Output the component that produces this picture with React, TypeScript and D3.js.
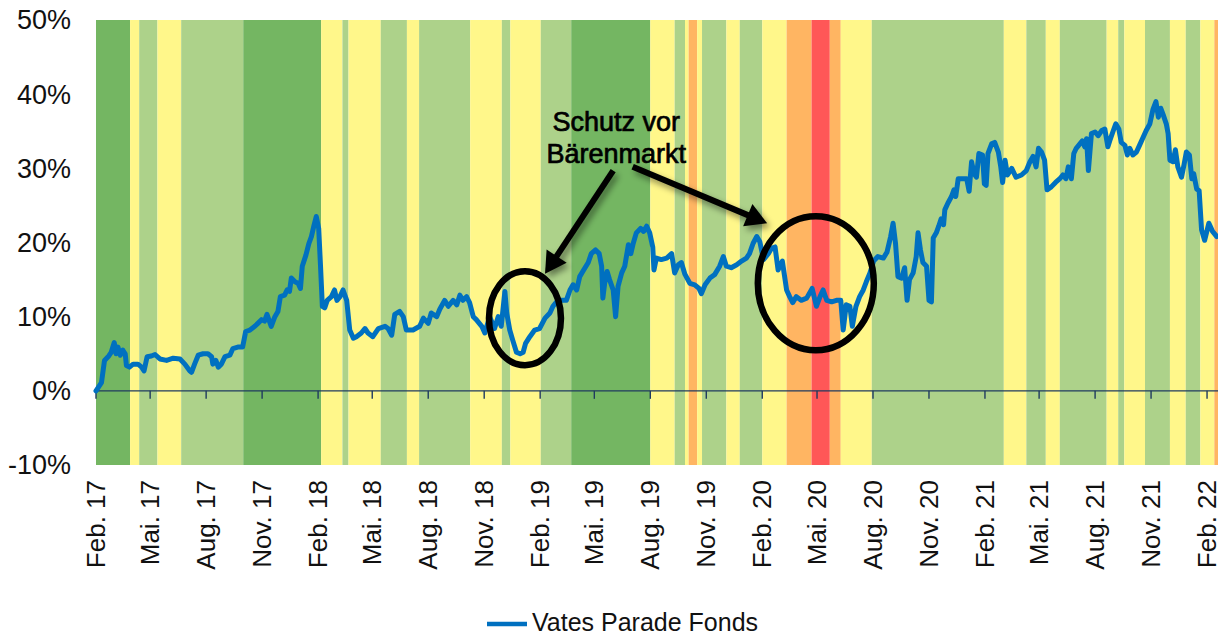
import React, { useEffect } from 'react';
import * as d3 from 'd3';

const W = 1218, H = 637;
const parse = d3.timeParse('%Y-%m-%d');

const yTicks = [-10, 0, 10, 20, 30, 40, 50];
const monthAbbr = ['Jan.', 'Feb.', 'Mär.', 'Apr.', 'Mai.', 'Jun.', 'Jul.', 'Aug.', 'Sep.', 'Okt.', 'Nov.', 'Dez.'];

// market regime backdrop
const regimeColors: Record<string, string> = {
  strong: '#74B662',
  positive: '#ADD28A',
  neutral: '#FFF78A',
  caution: '#FFB562',
  bear: '#FF5757',
};

const bandStarts = [
  '2017-02-01', '2017-03-29', '2017-04-13', '2017-05-13', '2017-06-21', '2017-10-01',
  '2018-02-06', '2018-03-13', '2018-03-23', '2018-05-15', '2018-06-27', '2018-07-17',
  '2018-10-09', '2018-11-30', '2018-12-14', '2019-02-02', '2019-03-24', '2019-08-01',
  '2019-09-10', '2019-09-27', '2019-10-03', '2019-10-17', '2019-10-25', '2019-12-04',
  '2019-12-26', '2020-02-01', '2020-03-12', '2020-04-22', '2020-05-22', '2020-06-09',
  '2020-07-30', '2021-03-04', '2021-04-10', '2021-05-12', '2021-06-04', '2021-08-20',
  '2021-09-08', '2021-09-18', '2021-10-22', '2021-12-02', '2021-12-28', '2022-01-21',
  '2022-02-13',
];
const bandRegimes = [
  'strong', 'neutral', 'positive', 'neutral', 'positive', 'strong',
  'neutral', 'positive', 'neutral', 'positive', 'neutral', 'positive',
  'neutral', 'positive', 'neutral', 'positive', 'strong', 'neutral',
  'positive', 'neutral', 'caution', 'neutral', 'positive', 'neutral',
  'positive', 'neutral', 'caution', 'bear', 'caution', 'neutral',
  'positive', 'neutral', 'positive', 'neutral', 'positive', 'neutral',
  'positive', 'neutral', 'positive', 'neutral', 'positive', 'neutral',
  'caution',
];
const bandEnd = '2022-02-19';

// Vates Parade Fonds, cumulative performance in %
const fundSeries: [string, number][] = [
  ['2017-02-01', 0.0], ['2017-02-10', 1.1], ['2017-02-15', 4.1], ['2017-02-22', 4.7], ['2017-02-26', 5.2],
  ['2017-03-03', 6.5], ['2017-03-06', 5.0], ['2017-03-09', 5.9], ['2017-03-13', 4.8], ['2017-03-17', 5.5],
  ['2017-03-21', 5.0], ['2017-03-23', 3.4], ['2017-03-28', 3.2], ['2017-04-03', 3.6], ['2017-04-11', 3.6],
  ['2017-04-17', 3.2], ['2017-04-21', 2.7], ['2017-04-26', 4.6], ['2017-05-03', 4.7], ['2017-05-09', 4.9],
  ['2017-05-17', 4.3], ['2017-05-28', 4.1], ['2017-06-08', 4.4], ['2017-06-19', 4.3], ['2017-06-27', 3.6],
  ['2017-07-05', 2.7], ['2017-07-08', 2.5], ['2017-07-13', 3.6], ['2017-07-19', 4.8], ['2017-07-27', 5.0],
  ['2017-08-04', 5.0], ['2017-08-10', 4.6], ['2017-08-12', 3.6], ['2017-08-17', 4.1], ['2017-08-21', 3.2],
  ['2017-08-26', 3.6], ['2017-09-01', 4.6], ['2017-09-09', 4.8], ['2017-09-14', 5.7], ['2017-09-22', 5.9],
  ['2017-09-30', 5.9], ['2017-10-05', 8.0], ['2017-10-12', 8.2], ['2017-10-20', 8.7], ['2017-10-25', 9.1],
  ['2017-10-31', 9.6], ['2017-11-05', 9.4], ['2017-11-09', 10.3], ['2017-11-16', 8.7], ['2017-11-22', 10.0],
  ['2017-11-27', 10.7], ['2017-12-01', 12.7], ['2017-12-08', 12.9], ['2017-12-12', 13.6], ['2017-12-16', 13.4],
  ['2017-12-19', 15.2], ['2017-12-25', 14.7], ['2017-12-30', 14.5], ['2018-01-03', 13.8], ['2018-01-06', 16.8],
  ['2018-01-12', 18.3], ['2018-01-17', 19.9], ['2018-01-21', 20.8], ['2018-01-25', 22.2], ['2018-01-29', 23.5],
  ['2018-02-02', 21.9], ['2018-02-05', 16.8], ['2018-02-08', 11.4], ['2018-02-12', 11.2], ['2018-02-16', 12.2],
  ['2018-02-23', 12.7], ['2018-02-28', 13.6], ['2018-03-04', 12.2], ['2018-03-09', 12.7], ['2018-03-14', 13.6],
  ['2018-03-20', 12.2], ['2018-03-25', 8.2], ['2018-03-31', 7.1], ['2018-04-05', 7.3], ['2018-04-13', 7.8],
  ['2018-04-19', 8.4], ['2018-04-24', 7.8], ['2018-05-02', 7.3], ['2018-05-11', 8.4], ['2018-05-22', 8.7],
  ['2018-05-27', 8.4], ['2018-06-02', 7.5], ['2018-06-07', 10.3], ['2018-06-15', 10.7], ['2018-06-21', 10.0],
  ['2018-06-26', 8.2], ['2018-07-07', 8.2], ['2018-07-18', 8.7], ['2018-07-24', 9.8], ['2018-08-01', 9.1],
  ['2018-08-06', 10.5], ['2018-08-15', 10.0], ['2018-08-20', 11.0], ['2018-08-28', 12.2], ['2018-09-03', 11.4],
  ['2018-09-11', 12.2], ['2018-09-17', 11.6], ['2018-09-22', 12.9], ['2018-09-27', 12.2], ['2018-10-03', 12.7],
  ['2018-10-08', 11.9], ['2018-10-14', 10.0], ['2018-10-19', 9.6], ['2018-10-28', 8.7], ['2018-11-02', 7.8],
  ['2018-11-10', 10.0], ['2018-11-18', 8.4], ['2018-11-24', 10.0], ['2018-11-29', 8.7], ['2018-12-05', 13.4],
  ['2018-12-08', 10.5], ['2018-12-13', 8.2], ['2018-12-18', 6.8], ['2018-12-24', 5.2], ['2018-12-30', 5.0],
  ['2019-01-04', 5.2], ['2019-01-08', 6.4], ['2019-01-15', 7.3], ['2019-01-23', 8.2], ['2019-01-31', 8.4],
  ['2019-02-09', 9.8], ['2019-02-17', 10.5], ['2019-02-22', 11.4], ['2019-02-28', 12.0], ['2019-03-08', 12.2],
  ['2019-03-16', 12.2], ['2019-03-22', 13.6], ['2019-03-27', 14.3], ['2019-04-02', 13.6], ['2019-04-07', 15.4],
  ['2019-04-12', 16.1], ['2019-04-21', 17.3], ['2019-04-26', 18.5], ['2019-05-03', 19.0], ['2019-05-09', 18.5],
  ['2019-05-13', 16.8], ['2019-05-15', 12.5], ['2019-05-18', 14.5], ['2019-05-22', 16.1], ['2019-05-26', 15.0],
  ['2019-06-01', 13.6], ['2019-06-05', 10.0], ['2019-06-09', 14.1], ['2019-06-15', 15.9], ['2019-06-20', 16.8],
  ['2019-06-26', 19.7], ['2019-06-30', 18.5], ['2019-07-04', 19.9], ['2019-07-09', 21.3], ['2019-07-16', 21.9],
  ['2019-07-21', 21.5], ['2019-07-26', 22.2], ['2019-07-31', 21.3], ['2019-08-05', 19.4], ['2019-08-07', 16.3],
  ['2019-08-11', 17.9], ['2019-08-19', 17.7], ['2019-08-28', 17.9], ['2019-09-05', 18.5], ['2019-09-10', 15.9],
  ['2019-09-16', 17.0], ['2019-09-21', 17.3], ['2019-09-27', 15.7], ['2019-10-05', 14.5], ['2019-10-13', 14.3],
  ['2019-10-20', 13.8], ['2019-10-24', 13.1], ['2019-10-30', 14.3], ['2019-11-07', 15.2], ['2019-11-15', 15.7],
  ['2019-11-23', 16.8], ['2019-11-29', 18.1], ['2019-12-04', 16.8], ['2019-12-12', 16.6], ['2019-12-21', 17.0],
  ['2019-12-29', 17.5], ['2020-01-06', 17.9], ['2020-01-11', 18.5], ['2020-01-17', 19.9], ['2020-01-23', 20.8],
  ['2020-01-28', 20.1], ['2020-02-03', 17.7], ['2020-02-11', 18.5], ['2020-02-16', 19.2], ['2020-02-22', 19.4],
  ['2020-02-27', 16.3], ['2020-03-05', 17.5], ['2020-03-12', 13.6], ['2020-03-17', 12.7], ['2020-03-22', 11.9],
  ['2020-03-28', 12.7], ['2020-04-05', 12.2], ['2020-04-14', 12.5], ['2020-04-23', 13.8], ['2020-04-30', 11.4],
  ['2020-05-06', 12.7], ['2020-05-11', 13.6], ['2020-05-17', 12.2], ['2020-05-25', 12.0], ['2020-06-02', 12.2],
  ['2020-06-09', 12.2], ['2020-06-13', 8.2], ['2020-06-18', 11.6], ['2020-06-24', 11.4], ['2020-06-28', 8.7],
  ['2020-07-04', 11.4], ['2020-07-10', 12.7], ['2020-07-16', 13.6], ['2020-07-21', 14.7], ['2020-07-27', 15.9],
  ['2020-08-02', 17.5], ['2020-08-09', 18.1], ['2020-08-18', 17.9], ['2020-08-24', 18.7], ['2020-08-30', 20.8],
  ['2020-09-03', 22.6], ['2020-09-07', 19.9], ['2020-09-11', 15.4], ['2020-09-17', 15.2], ['2020-09-22', 16.6],
  ['2020-09-26', 12.2], ['2020-09-30', 15.0], ['2020-10-06', 15.9], ['2020-10-11', 18.1], ['2020-10-14', 21.3],
  ['2020-10-18', 19.0], ['2020-10-22', 17.3], ['2020-10-28', 16.8], ['2020-11-01', 12.2], ['2020-11-05', 12.0],
  ['2020-11-08', 20.6], ['2020-11-13', 21.3], ['2020-11-17', 22.2], ['2020-11-21', 23.2], ['2020-11-25', 22.4],
  ['2020-11-27', 24.4], ['2020-12-02', 25.3], ['2020-12-08', 26.2], ['2020-12-12', 27.1], ['2020-12-15', 26.2],
  ['2020-12-19', 28.6], ['2020-12-24', 28.6], ['2021-01-02', 28.6], ['2021-01-06', 26.9], ['2021-01-10', 30.9],
  ['2021-01-14', 29.3], ['2021-01-18', 28.8], ['2021-01-22', 32.0], ['2021-01-28', 31.8], ['2021-01-31', 27.9],
  ['2021-02-03', 27.7], ['2021-02-06', 32.0], ['2021-02-12', 33.3], ['2021-02-17', 33.5], ['2021-02-23', 32.2],
  ['2021-02-27', 30.2], ['2021-03-02', 28.1], ['2021-03-06', 31.1], ['2021-03-10', 29.1], ['2021-03-17', 30.0],
  ['2021-03-24', 28.8], ['2021-04-02', 29.1], ['2021-04-10', 29.7], ['2021-04-16', 30.9], ['2021-04-21', 31.6],
  ['2021-04-26', 30.2], ['2021-04-30', 32.7], ['2021-05-05', 32.2], ['2021-05-10', 31.1], ['2021-05-14', 27.1],
  ['2021-05-21', 27.5], ['2021-05-28', 28.1], ['2021-06-04', 28.6], ['2021-06-09', 29.1], ['2021-06-14', 28.6],
  ['2021-06-18', 30.2], ['2021-06-23', 28.6], ['2021-06-27', 32.0], ['2021-07-01', 32.7], ['2021-07-07', 33.3],
  ['2021-07-11', 33.7], ['2021-07-15', 32.9], ['2021-07-18', 34.0], ['2021-07-21', 29.7], ['2021-07-26', 34.7],
  ['2021-08-01', 34.9], ['2021-08-06', 34.4], ['2021-08-12', 35.1], ['2021-08-17', 35.3], ['2021-08-22', 32.9],
  ['2021-08-25', 33.7], ['2021-08-31', 35.1], ['2021-09-04', 36.0], ['2021-09-09', 35.3], ['2021-09-13', 33.5],
  ['2021-09-19', 33.1], ['2021-09-23', 31.8], ['2021-09-27', 32.7], ['2021-10-02', 31.8], ['2021-10-08', 32.2],
  ['2021-10-13', 33.1], ['2021-10-19', 34.2], ['2021-10-24', 35.1], ['2021-10-30', 36.0], ['2021-11-04', 37.9],
  ['2021-11-09', 39.0], ['2021-11-13', 36.9], ['2021-11-17', 38.1], ['2021-11-21', 37.2], ['2021-11-26', 36.0],
  ['2021-11-29', 34.7], ['2021-12-02', 31.1], ['2021-12-07', 30.9], ['2021-12-11', 32.5], ['2021-12-15', 30.2],
  ['2021-12-21', 28.8], ['2021-12-25', 30.4], ['2021-12-29', 32.2], ['2022-01-03', 31.8], ['2022-01-07', 28.6],
  ['2022-01-10', 29.3], ['2022-01-15', 27.2], ['2022-01-19', 27.0], ['2022-01-23', 21.7], ['2022-01-28', 20.3],
  ['2022-02-04', 22.6], ['2022-02-10', 21.5], ['2022-02-17', 20.8],
];

// annotation anchors (date, value in %)
const circles = [
  { date: '2019-01-07', value: 9.8, rx: 36, ry: 47 },
  { date: '2020-04-29', value: 14.5, rx: 58, ry: 67 },
];
const arrows = [
  { from: ['2019-06-01', 29.7], to: ['2019-02-09', 15.8] },
  { from: ['2019-07-03', 30.2], to: ['2020-02-09', 22.6] },
];
const noteLines = ['Schutz vor', 'Bärenmarkt'];
const noteAnchor = { date: '2019-06-06', values: [35.0, 30.7] };

const FONT = '"Liberation Sans", Arial, Helvetica, sans-serif';

const App = () => {
  useEffect(() => {
    document.body.style.margin = '0';
  }, []);

  const x = d3.scaleTime().domain([parse('2017-02-01')!, parse(bandEnd)!]).range([96, 1218]);
  const y = d3.scaleLinear().domain([-10, 50]).range([465, 20]);

  const bands = bandStarts.map((s, i) => {
    const x0 = x(parse(s)!);
    const x1 = x(parse(i + 1 < bandStarts.length ? bandStarts[i + 1] : bandEnd)!);
    return { x0, x1, color: regimeColors[bandRegimes[i]] };
  });

  const ticks = d3.timeMonth.range(parse('2017-02-01')!, parse('2022-02-02')!, 3);
  const fmt = (d: Date) => `${monthAbbr[d.getMonth()]} ${String(d.getFullYear()).slice(2)}`;

  const line = d3.line<[string, number]>()
    .x(d => x(parse(d[0])!))
    .y(d => y(d[1]));

  const y0 = y(0);

  const arrowShapes = arrows.map(a => {
    const x1 = x(parse(a.from[0] as string)!), y1 = y(a.from[1] as number);
    const x2 = x(parse(a.to[0] as string)!), y2 = y(a.to[1] as number);
    const ang = Math.atan2(y2 - y1, x2 - x1);
    const headLen = 21, headW = 12;
    const bx = x2 - headLen * Math.cos(ang), by = y2 - headLen * Math.sin(ang);
    const px = -Math.sin(ang) * headW, py = Math.cos(ang) * headW;
    return {
      shaft: [x1, y1, bx + 2 * Math.cos(ang), by + 2 * Math.sin(ang)],
      head: `M${x2},${y2}L${bx + px},${by + py}L${bx - px},${by - py}Z`,
    };
  });

  return (
    <svg width={W} height={H} style={{ display: 'block', background: '#fff' }} fontFamily={FONT}>
      <defs>
        <filter id="shadow" x="-30%" y="-30%" width="160%" height="160%">
          <feDropShadow dx="3" dy="4" stdDeviation="3" floodColor="#000" floodOpacity="0.45" />
        </filter>
      </defs>

      {bands.map((b, i) => (
        <rect key={i} x={b.x0} y={y(50)} width={b.x1 - b.x0} height={y(-10) - y(50)} fill={b.color} />
      ))}

      {yTicks.map(t => (
        <text key={t} x={71} y={y(t)} dy="0.35em" textAnchor="end" fontSize={27} fill="#111">
          {t}%
        </text>
      ))}

      <line x1={96} x2={1218} y1={y0} y2={y0} stroke="#1F3A5F" strokeWidth={1.4} />
      {ticks.map((t, i) => (
        <g key={i}>
          <line x1={x(t)} x2={x(t)} y1={y0} y2={y0 + 8} stroke="#1F3A5F" strokeWidth={1.4} />
          <text
            transform={`translate(${x(t)},480) rotate(-90)`}
            dy="0.33em"
            textAnchor="end"
            fontSize={26}
            fill="#111"
          >
            {fmt(t)}
          </text>
        </g>
      ))}

      <path d={line(fundSeries) || ''} fill="none" stroke="#0070C0" strokeWidth={5} strokeLinejoin="round" strokeLinecap="round" />

      {circles.map((c, i) => (
        <ellipse key={i} cx={x(parse(c.date)!)} cy={y(c.value)} rx={c.rx} ry={c.ry} fill="none" stroke="#000" strokeWidth={6.5} />
      ))}

      <g filter="url(#shadow)">
        {arrowShapes.map((a, i) => (
          <g key={i}>
            <line x1={a.shaft[0]} y1={a.shaft[1]} x2={a.shaft[2]} y2={a.shaft[3]} stroke="#000" strokeWidth={6} />
            <path d={a.head} fill="#000" />
          </g>
        ))}
      </g>

      {noteLines.map((t, i) => (
        <text key={i} x={x(parse(noteAnchor.date)!)} y={y(noteAnchor.values[i])} textAnchor="middle" fontSize={27} fill="#000" stroke="#000" strokeWidth={0.7}>
          {t}
        </text>
      ))}

      <line x1={487} x2={527} y1={624} y2={624} stroke="#0070C0" strokeWidth={4.5} />
      <text x={532} y={631} fontSize={25} fill="#111">Vates Parade Fonds</text>
    </svg>
  );
};

export default App;
